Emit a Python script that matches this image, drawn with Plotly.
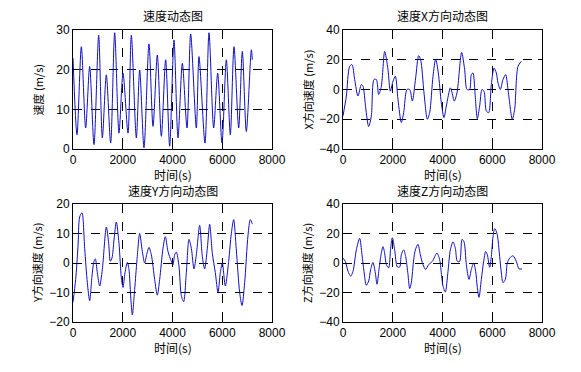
import plotly.graph_objects as go

# ---- data ----
speed_t = [0, 161, 335, 509, 670, 844, 1032, 1179, 1340, 1514, 1675, 1849, 2010, 2211, 2345, 2546,
           2680, 2854, 3055, 3216, 3390, 3551, 3725, 3886, 4060, 4221, 4395, 4583, 4730, 4958, 5065,
           5306, 5467, 5655, 5816, 5990, 6164, 6325, 6472, 6660, 6807, 6968, 7169, 7209]
speed_v = [22.9, 3.6, 25.8, 5.3, 20.8, 1.1, 28.7, 2.8, 18.7, 1.5, 29.3, 4.0, 19.1, 4.0, 28.7, 2.8,
           19.9, 0.3, 26.5, 5.7, 23.7, 3.2, 22.5, 0.7, 27.5, 2.8, 21.6, 5.3, 29.0, 5.3, 23.3,
           1.5, 29.3, 5.3, 19.1, 1.5, 22.5, 3.6, 25.8, 5.3, 24.6, 4.4, 25.0, 22.5]

x_t = [0, 134, 268, 362, 469, 603, 737, 804, 911, 1032, 1139, 1246, 1340, 1434, 1541, 1675, 1809,
       1903, 2010, 2104, 2211, 2345, 2439, 2573, 2680, 2787, 2921, 3042, 3122, 3256, 3390, 3484,
       3618, 3725, 3832, 3953, 4060, 4154, 4315, 4368, 4476, 4583, 4770, 4891, 4985, 5092, 5159,
       5226, 5306, 5400, 5494, 5588, 5668, 5762, 5856, 5963, 6070, 6164, 6231, 6325, 6432, 6539,
       6633, 6807, 6901, 7035, 7169]
x_v = [-17.8, -4.4, 15.6, 16.7, 6.7, -4.4, 3.3, 2.2, -12.2, -24.9, -17.8, 6.7, 6.7, -3.3, 2.2, 25.6,
       13.3, -1.1, 5.6, 8.9, -6.7, -22.2, -15.6, 0, 0, -7.8, 7.8, 22.7, 20, -2.2, -20, -15.6,
       8.9, 20.4, 11.1, -8.9, -18.9, -11.1, 1.1, -1.1, -7.8, -2.2, 24.9, 13.3, 0, 0, 10.0,
       11.1, -2.2, -19.6, -11.1, 0, -1.1, -14.4, -15.6, 3.3, 14.4, 11.1, 4.4, 0, 6.7, 10,
       0, -20, -13.3, 15.6, 18.9]

y_t = [0, 107, 201, 268, 362, 469, 576, 670, 764, 844, 898, 978, 1072, 1179, 1340, 1434, 1501, 1568,
       1648, 1742, 1849, 1943, 2010, 2090, 2184, 2251, 2318, 2385, 2479, 2573, 2680, 2787, 2881,
       2975, 3055, 3149, 3283, 3390, 3484, 3618, 3712, 3819, 3953, 4020, 4087, 4154, 4261, 4355,
       4449, 4556, 4663, 4757, 4864, 4958, 5092, 5199, 5293, 5400, 5494, 5601, 5722, 5829, 5923,
       6003, 6124, 6258, 6365, 6459, 6566, 6700, 6794, 6901, 7035, 7128, 7209]
y_v = [-13.3, -5.6, 5.6, 15.6, 17.0, 5, -6.7, -12.8, -4.4, 0.6, 1.4, -3.3, -7.8, -2.2, 12.2, 6.7, 0.6, 1.7,
       7.8, 13.9, 6.7, -5, -8.3, -3.3, 0.2, -2.2, -11.1, -17.6, -8.9, 1.1, 10, 3.9, 0,
       3.3, 5.3, 2.8, -5.6, -10.9, -5.6, 5, 8.9, 3.9, 0.6, -0.6, 2.8, 3.7, -1.1, -11.1,
       -13.1, -3.3, 8, 5, -2, 2.8, 12.8, 2.2, -2, 5, 13.1, 3.3, -3.3, -10, -3.3,
       0, -7.8, 0.6, 10, 14.7, 4.4, -10, -14.4, -6.7, 9.4, 14.7, 13.3]

z_t = [0, 94, 201, 308, 402, 536, 670, 764, 844, 938, 1032, 1112, 1206, 1300, 1367, 1447, 1541, 1608,
       1675, 1742, 1836, 1916, 1983, 2077, 2184, 2278, 2345, 2439, 2519, 2613, 2680, 2747, 2841,
       2908, 3015, 3109, 3216, 3323, 3443, 3591, 3779, 3886, 3966, 4020, 4114, 4221, 4315, 4422,
       4516, 4596, 4690, 4784, 4864, 4958, 5065, 5159, 5253, 5333, 5400, 5467, 5561, 5655, 5735,
       5802, 5896, 5963, 6030, 6097, 6191, 6298, 6365, 6432, 6526, 6606, 6700, 6834, 6968, 7075, 7196]
z_v = [3.3, 1.1, -5.6, -8.9, -5.6, 8.9, 16.7, 5.6, -5.6, -15.1, -12.2, -4.4, 0.4, -6.7, -14.4, -4.4, 6.7, 11.1,
       6.7, -1.1, -3.3, 10, 17.1, 8.9, -2.7, -2.7, 5.6, 8.9, 4.4, -7.8, -17.3, -13.3, 2.2,
       8.9, 12.7, 5.6, -1.1, -4.4, -1.1, 1.1, 6.7, 2.2, -8.9, -15.6, -19.6, -5.6, 8.9, 14.4,
       10, 1.1, 1.1, 16, 14.4, -1.1, -11.1, -4.4, 0, -5.6, -16.7, -23.3, -11.1, 1.1, 7.8,
       5.6, -2.9, 4.4, 17.8, 23.3, 20, 4.4, -6.7, -13.3, -11.1, 0, 3.3, 4.9, 1.1, -4, -4]

titles = ["速度动态图", "速度X方向动态图", "速度Y方向动态图", "速度Z方向动态图"]
ylabels = ["速度 (m/s)", "X方向速度 (m/s)", "Y方向速度 (m/s)", "Z方向速度 (m/s)"]
xlabel = "时间(s)"
x_ticks = [0, 2000, 4000, 6000, 8000]
y_ticks = [[0, 10, 20, 30], [-40, -20, 0, 20, 40], [-20, -10, 0, 10, 20], [-40, -20, 0, 20, 40]]
y_ranges = [[0, 30], [-40, 40], [-20, 20], [-40, 40]]

series = [(speed_t, speed_v), (x_t, x_v), (y_t, y_v), (z_t, z_v)]

W, H = 581, 372
# pixel boxes (left, right, top, bottom)
boxes = [(73, 272, 30, 149), (343, 542, 30, 149), (73, 272, 204, 322), (343, 542, 204, 322)]

FONT = "Liberation Sans, Arial, Noto Sans CJK SC"
CJK = "Noto Sans CJK SC"
fig = go.Figure()
layout = dict(width=W, height=H, margin=dict(l=0, r=0, t=0, b=0, autoexpand=False),
              paper_bgcolor="white", plot_bgcolor="white", showlegend=False,
              font=dict(family=FONT, size=11, color="black"))
annotations = []
for i, ((t, v), box) in enumerate(zip(series, boxes)):
    n = "" if i == 0 else str(i + 1)
    fig.add_trace(go.Scatter(x=t, y=v, mode="lines", xaxis="x" + n, yaxis="y" + n,
                             line=dict(color="#1010c0", width=1, shape="spline", smoothing=0.8)))
    l, r, tp, b = box
    common = dict(showline=True, linecolor="black", linewidth=1, mirror="allticks",
                  ticks="inside", ticklen=4, tickcolor="black", automargin=False,
                  showgrid=True, gridcolor="black", griddash="dash", gridwidth=1,
                  zeroline=False, tickfont=dict(family=FONT, size=12, color="black"))
    layout["xaxis" + n] = dict(domain=[l / W, r / W], anchor="y" + n, range=[0, 8000],
                               tickvals=x_ticks, **common)
    layout["yaxis" + n] = dict(domain=[1 - b / H, 1 - tp / H], anchor="x" + n, range=y_ranges[i],
                               tickvals=y_ticks[i], **common)
    cx = (l + r) / 2 / W
    annotations.append(dict(text=titles[i], x=cx, y=1 - (tp - 14) / H, xref="paper", yref="paper",
                            xanchor="center", yanchor="middle",
                            showarrow=False, font=dict(family=CJK, size=12)))
    annotations.append(dict(text=xlabel, x=cx, y=1 - (b + 25) / H, xref="paper", yref="paper",
                            xanchor="center", yanchor="middle",
                            showarrow=False, font=dict(family=CJK, size=12)))
    annotations.append(dict(text=ylabels[i], x=(l - 36) / W, y=1 - (tp + b) / 2 / H,
                            xref="paper", yref="paper", showarrow=False, textangle=-90,
                            xanchor="center", yanchor="middle",
                            font=dict(family=CJK, size=11)))
layout["annotations"] = annotations
fig.update_layout(**layout)
fig.write_html("out.html", config={"displayModeBar": False},
               post_script="document.body.style.margin='0';")
